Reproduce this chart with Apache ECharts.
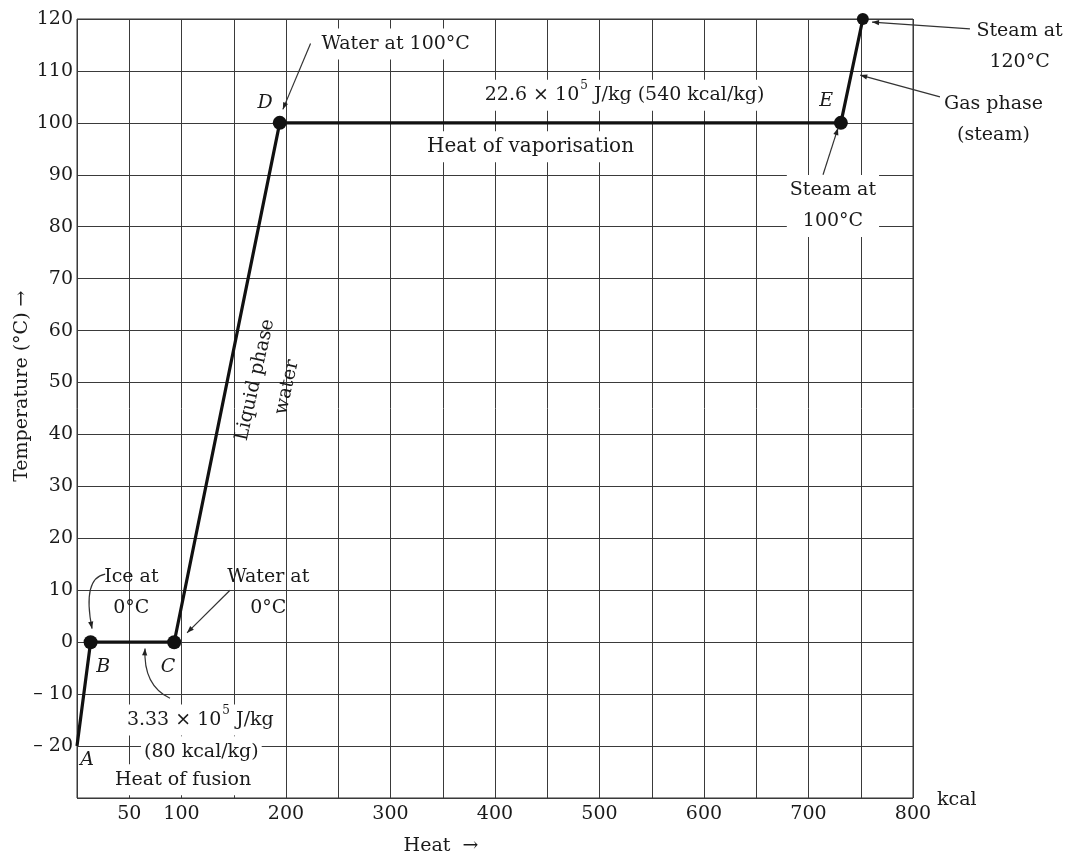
<!DOCTYPE html>
<html><head><meta charset="utf-8">
<script src="https://cdn.jsdelivr.net/npm/echarts@6/dist/echarts.min.js"></script>
<style>html,body{margin:0;padding:0;background:#fff}#c{width:1068px;height:856px}</style>
</head><body><div id="c"></div>
<script>
// ---- data ----
const heat = [0, 13, 93, 194, 731, 752];          // kcal
const temperature = [-20, 0, 0, 100, 100, 120];   // °C
const pointSizes = [0, 14, 14, 14, 14, 12];
const xTickLabels = [50, 100, 200, 300, 400, 500, 600, 700, 800];
const yTickLabels = [120, 110, 100, 90, 80, 70, 60, 50, 40, 30, 20, 10, 0, -10, -20];

// annotations anchored in data coordinates
const textNotes = [
  {text: 'Water at 100°C', at: [231, 115.2], align: 'left', bg: true},
  {text: 'D', at: [180, 103.9], italic: true},
  {text: '22.6 × 10{sup|5} J/kg (540 kcal/kg)', at: [524, 105.3], bg: true},
  {text: 'Heat of vaporisation', at: [434, 95.4], bg: true, size: 20},
  {text: 'E', at: [717, 104.2], italic: true},
  {text: 'Steam at\n120°C', at: [902, 114.7], bg: true},
  {text: 'Gas phase\n(steam)', at: [877, 100.6], bg: true},
  {text: 'Steam at\n100°C', at: [723.4, 84], bg: true},
  {text: 'Ice at\n0°C', at: [52, 9.6]},
  {text: 'Water at\n0°C', at: [183, 9.6]},
  {text: 'B', at: [25, -4.8], italic: true},
  {text: 'C', at: [87, -4.8], italic: true},
  {text: '3.33 × 10{sup|5} J/kg', at: [118, -15], bg: true},
  {text: '(80 kcal/kg)', at: [119, -21.1], bg: true},
  {text: 'Heat of fusion', at: [101.5, -26.5], bg: true},
  {text: 'A', at: [9.6, -22.7], italic: true},
  {text: 'Liquid phase', at: [170.5, 50.5], rot: 77.5},
  {text: 'water', at: [201, 49.1], rot: 77.5},
  {text: 'Temperature (°C) →', at: [-52.6, 49.3], rot: 90},
  {text: 'Heat  →', at: [348.3, -39.3]},
  {text: 'kcal', at: [842, -30.4]}
];
const arrowNotes = [
  {from: [223.5, 115.3], to: [197, 102.6]},
  {from: [854.5, 118.1], to: [760.8, 119.4]},
  {from: [825.8, 105], to: [749.5, 109.2]},
  {from: [713.9, 90], to: [728.2, 99]},
  {from: [27, 13.1], via: [4.8, 12.3], to: [14.4, 2.6]},
  {from: [146.4, 10], to: [105.3, 1.8]},
  {from: [89, -10.8], via: [63.2, -8.3], to: [65.1, -1.2]}
];

const FONT = '"DejaVu Serif", serif';
const INK = '#1a1a1a';
const chart = echarts.init(document.getElementById('c'));
chart.setOption({
  animation: false,
  backgroundColor: '#fff',
  grid: {left: 77, right: 155, top: 19, bottom: 58, show: true, borderColor: '#333', borderWidth: 1},
  xAxis: {
    type: 'value', min: 0, max: 800, interval: 50,
    axisLine: {show: false}, axisTick: {show: false},
    splitLine: {show: true, lineStyle: {color: '#3a3a3a', width: 1}},
    axisLabel: {
      formatter: v => xTickLabels.includes(v) ? String(v) : '',
      color: INK, fontFamily: FONT, fontSize: 19, margin: 7
    }
  },
  yAxis: {
    type: 'value', min: -30, max: 120, interval: 10,
    axisLine: {show: false}, axisTick: {show: false},
    splitLine: {show: true, lineStyle: {color: '#3a3a3a', width: 1}},
    axisLabel: {
      formatter: v => yTickLabels.includes(v) ? (v < 0 ? '– ' + (-v) : String(v)) : '',
      color: INK, fontFamily: FONT, fontSize: 19, margin: 4
    }
  },
  series: [{
    type: 'line',
    data: heat.map((x, i) => ({value: [x, temperature[i]], symbolSize: pointSizes[i]})),
    symbol: 'circle',
    lineStyle: {color: '#111', width: 3.2},
    itemStyle: {color: '#111'},
    clip: false, z: 5
  }]
});

function P(pt) { return chart.convertToPixel({gridIndex: 0}, pt); }
const g = [];
textNotes.forEach(n => {
  const p = P(n.at);
  g.push({
    type: 'text', x: p[0], y: p[1], rotation: (n.rot || 0) * Math.PI / 180, z: 20,
    style: {
      text: n.text, fill: INK, fontFamily: FONT, fontSize: n.size || 19,
      fontStyle: n.italic ? 'italic' : 'normal',
      align: n.align || 'center', verticalAlign: 'middle', lineHeight: 31,
      backgroundColor: n.bg ? '#fff' : 'transparent', padding: n.bg ? [0, 3] : 0,
      rich: {sup: {fontSize: 12, fontFamily: FONT, fill: INK, verticalAlign: 'top', lineHeight: 12, padding: [0, 0, 10, 1]}}
    }
  });
});
arrowNotes.forEach(a => {
  const s = P(a.from), e = P(a.to);
  let d = s;
  if (a.via) {
    const c = P(a.via); d = c;
    g.push({type: 'bezierCurve', z: 20, shape: {x1: s[0], y1: s[1], x2: e[0], y2: e[1], cpx1: c[0], cpy1: c[1]},
      style: {stroke: '#333', lineWidth: 1.2, fill: 'none'}});
  } else {
    g.push({type: 'line', z: 20, shape: {x1: s[0], y1: s[1], x2: e[0], y2: e[1]}, style: {stroke: '#333', lineWidth: 1.2}});
  }
  const dx = e[0] - d[0], dy = e[1] - d[1], L = Math.hypot(dx, dy), ux = dx / L, uy = dy / L;
  const len = 7, w = 2.6, bx = e[0] - ux * len, by = e[1] - uy * len;
  g.push({type: 'polygon', z: 20, shape: {points: [[e[0], e[1]], [bx - uy * w, by + ux * w], [bx + uy * w, by - ux * w]]},
    style: {fill: '#222'}});
});
chart.setOption({graphic: g});
</script></body></html>
